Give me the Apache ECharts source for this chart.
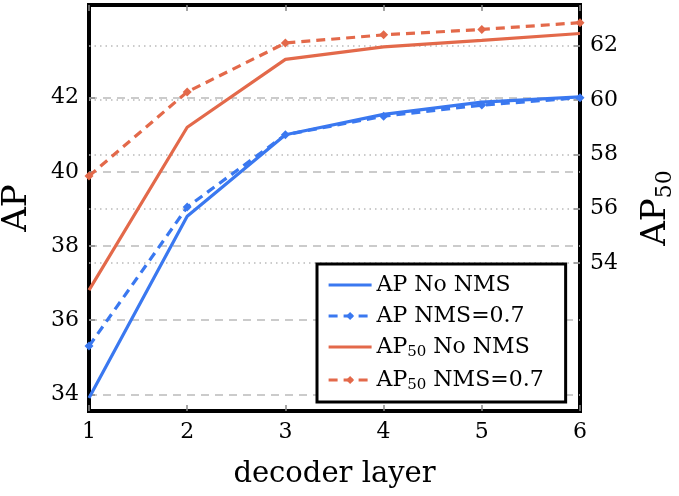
<!DOCTYPE html>
<html>
<head>
<meta charset="utf-8">
<script src="https://cdn.jsdelivr.net/npm/echarts@6/dist/echarts.min.js"></script>
<style>html,body{margin:0;padding:0;background:#fff}#c{width:679px;height:496px}</style>
</head>
<body>
<div id="c"></div>
<script>
const layers = [1, 2, 3, 4, 5, 6];
const apNoNms = [33.9, 38.8, 41.0, 41.55, 41.88, 42.02];
const apNms07 = [35.3, 39.05, 41.0, 41.5, 41.8, 42.0];
const ap50NoNms = [53.0, 59.0, 61.5, 61.96, 62.2, 62.45];
const ap50Nms07 = [57.2, 60.3, 62.1, 62.4, 62.6, 62.85];
const apTicks = [34, 36, 38, 40, 42];
const ap50Ticks = [54, 56, 58, 60, 62];

const FONT = 'DejaVu Serif';
const BLUE = '#3a78f0';
const ORANGE = '#e3694a';
const pts = (ys) => layers.map((x, i) => [x, ys[i]]);

const chart = echarts.init(document.getElementById('c'), null, {renderer: 'canvas'});
const legendLabels = {
  'AP No NMS': '{a|AP No NMS}',
  'AP NMS=0.7': '{a|AP NMS=0.7}',
  'AP50 No NMS': '{a|AP}{s|50}{a| No NMS}',
  'AP50 NMS=0.7': '{a|AP}{s|50}{a| NMS=0.7}'
};
const xCommon = {
  type: 'value', min: 1, max: 6, interval: 1,
  axisLine: {show: false},
  axisTick: {show: true, inside: true, length: 6, lineStyle: {color: '#888', width: 1.5}},
  splitLine: {show: false}
};
chart.setOption({
  animation: false,
  backgroundColor: '#fff',
  grid: {left: 89, right: 99, top: 5, bottom: 85, outerBoundsMode: 'none', containLabel: false,
         show: true, borderColor: '#000', borderWidth: 4, backgroundColor: 'transparent'},
  xAxis: [
    Object.assign({}, xCommon, {
      position: 'bottom',
      axisLabel: {fontFamily: FONT, fontSize: 22, color: '#000', margin: 10},
      name: 'decoder layer', nameLocation: 'middle', nameGap: 49,
      nameTextStyle: {fontFamily: FONT, fontSize: 29, color: '#000'}
    }),
    Object.assign({}, xCommon, {position: 'top', axisLabel: {show: false}})
  ],
  yAxis: [
    {
      type: 'value', position: 'left', min: 33.55, max: 44.5,
      axisLine: {show: false},
      axisTick: {show: true, inside: true, length: 6, customValues: apTicks, lineStyle: {color: '#888', width: 1.5}},
      axisLabel: {customValues: apTicks, fontFamily: FONT, fontSize: 22, color: '#000', margin: 10},
      splitLine: {show: true, lineStyle: {color: '#bbb', width: 1.5, type: [8, 6]}},
      name: 'AP', nameLocation: 'middle', nameGap: 55, nameRotate: 90,
      nameTextStyle: {fontFamily: FONT, fontSize: 34, color: '#000'}
    },
    {
      type: 'value', position: 'right', min: 48.55, max: 63.5,
      axisLine: {show: false},
      axisTick: {show: true, inside: true, length: 6, customValues: ap50Ticks, lineStyle: {color: '#888', width: 1.5}},
      axisLabel: {customValues: ap50Ticks, fontFamily: FONT, fontSize: 22, color: '#000', margin: 10},
      splitLine: {show: true, lineStyle: {color: '#bbb', width: 1.5, type: [1.5, 4]}},
      name: '{a|AP}{s|50}', nameLocation: 'middle', nameGap: 56, nameRotate: 90,
      nameTextStyle: {fontFamily: FONT, fontSize: 34, color: '#000',
        rich: {a: {fontFamily: FONT, fontSize: 34, color: '#000', lineHeight: 40},
               s: {fontFamily: FONT, fontSize: 22, color: '#000', lineHeight: 16, verticalAlign: 'bottom'}}}
    }
  ],
  legend: {
    orient: 'vertical', left: 317, top: 264,
    backgroundColor: '#fff', borderColor: '#000', borderWidth: 3,
    padding: [10, 22, 9, 10], itemWidth: 43, itemHeight: 10, itemGap: 9,
    lineStyle: {width: 3.2},
    formatter: (n) => legendLabels[n],
    textStyle: {
      fontFamily: FONT, fontSize: 22, color: '#000',
      rich: {a: {fontFamily: FONT, fontSize: 22, color: '#000', lineHeight: 26},
             s: {fontFamily: FONT, fontSize: 15, color: '#000', lineHeight: 10, verticalAlign: 'bottom'}}
    },
    data: [
      {name: 'AP No NMS', itemStyle: {opacity: 0}},
      'AP NMS=0.7',
      {name: 'AP50 No NMS', itemStyle: {opacity: 0}},
      'AP50 NMS=0.7'
    ]
  },
  series: [
    {name: 'AP No NMS', type: 'line', xAxisIndex: 0, yAxisIndex: 0, data: pts(apNoNms),
     symbol: 'none', color: BLUE, lineStyle: {width: 3.2, color: BLUE}},
    {name: 'AP NMS=0.7', type: 'line', xAxisIndex: 0, yAxisIndex: 0, data: pts(apNms07),
     symbol: 'diamond', symbolSize: 9, color: BLUE, itemStyle: {color: BLUE},
     lineStyle: {width: 3.2, color: BLUE, type: [9, 6]}},
    {name: 'AP50 No NMS', type: 'line', xAxisIndex: 0, yAxisIndex: 1, data: pts(ap50NoNms),
     symbol: 'none', color: ORANGE, lineStyle: {width: 3.2, color: ORANGE}},
    {name: 'AP50 NMS=0.7', type: 'line', xAxisIndex: 0, yAxisIndex: 1, data: pts(ap50Nms07),
     symbol: 'diamond', symbolSize: 9, color: ORANGE, itemStyle: {color: ORANGE},
     lineStyle: {width: 3.2, color: ORANGE, type: [9, 6]}}
  ]
});
</script>
</body>
</html>
